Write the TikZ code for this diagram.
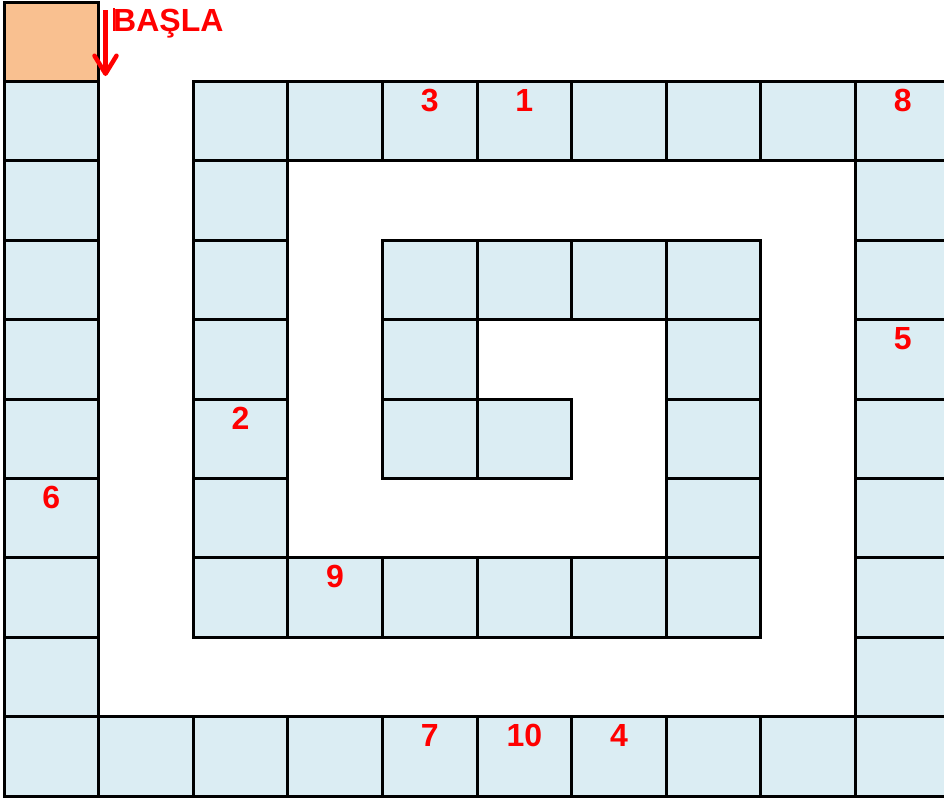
\documentclass[tikz,border=0pt]{standalone}
\usepackage{fontspec}
\setmainfont{Liberation Sans}
\usetikzlibrary{arrows.meta}
\definecolor{cellblue}{RGB}{219,237,243}
\definecolor{cellorange}{RGB}{249,192,144}
\definecolor{lblred}{RGB}{255,0,0}
\tikzset{
  cellbox/.style={fill=cellblue, draw=black, line width=3pt},
  startbox/.style={fill=cellorange, draw=black, line width=3pt},
  numlbl/.style={text=lblred, font=\bfseries\fontsize{32}{32}\selectfont, inner sep=0pt},
}
\begin{document}
\begin{tikzpicture}[x=1pt,y=-1pt]
\useasboundingbox (0,0) rectangle (944,798);
\clip (0,0) rectangle (944,798);
\begin{scope}[xshift=4pt, yshift=-2pt, x=94.6pt, y=-79.4pt]
  % start cell
  \path[startbox] (0,0) rectangle (1,1);
  % left column
  \foreach \r in {1,...,9} \path[cellbox] (0,\r) rectangle ++(1,1);
  % bottom row
  \foreach \c in {1,...,9} \path[cellbox] (\c,9) rectangle ++(1,1);
  % right column
  \foreach \r in {1,...,8} \path[cellbox] (9,\r) rectangle ++(1,1);
  % top inner row
  \foreach \c in {2,...,8} \path[cellbox] (\c,1) rectangle ++(1,1);
  % column 2
  \foreach \r in {2,...,7} \path[cellbox] (2,\r) rectangle ++(1,1);
  % row 7
  \foreach \c in {3,...,7} \path[cellbox] (\c,7) rectangle ++(1,1);
  % column 7
  \foreach \r in {3,...,6} \path[cellbox] (7,\r) rectangle ++(1,1);
  % row 3
  \foreach \c in {4,...,6} \path[cellbox] (\c,3) rectangle ++(1,1);
  % column 4 / row 5
  \path[cellbox] (4,4) rectangle ++(1,1);
  \path[cellbox] (4,5) rectangle ++(1,1);
  \path[cellbox] (5,5) rectangle ++(1,1);
  % numbers
  \node[numlbl] (n3) at (4.5,1.24) {3};
  \node[numlbl] (n1) at (5.5,1.24) {1};
  \node[numlbl] (n8) at (9.5,1.24) {8};
  \node[numlbl] (n5) at (9.5,4.24) {5};
  \node[numlbl] (n2) at (2.5,5.24) {2};
  \node[numlbl] (n6) at (0.5,6.24) {6};
  \node[numlbl] (n9) at (3.5,7.24) {9};
  \node[numlbl] (n7) at (4.5,9.24) {7};
  \node[numlbl] (n10) at (5.5,9.24) {10};
  \node[numlbl] (n4) at (6.5,9.24) {4};
\end{scope}
% start label and arrow
\node[anchor=base west, inner sep=0pt, text=lblred, font=\bfseries\fontsize{32}{32}\selectfont] (basla) at (113,31.5) {BAŞLA};
\coordinate (barT) at (114,8);
\coordinate (barB) at (114,31);
\draw[lblred, line width=1.5pt] (barT) -- (barB);
\coordinate (arrS) at (105.5,10);
\coordinate (arrE) at (105.5,76);
\draw[lblred, line width=4.5pt, -{Straight Barb[length=18pt,width=22pt,line cap=round,line join=round]}] (arrS) -- (arrE);
\end{tikzpicture}
\end{document}
